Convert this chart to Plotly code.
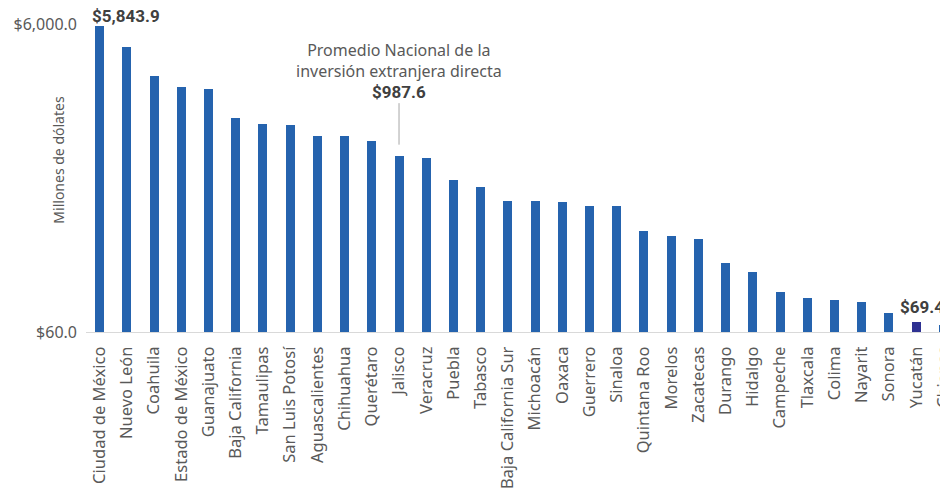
import numpy as np
import plotly.graph_objects as go

# Inversión extranjera directa por entidad federativa (millones de dólares)
estados = [
    "Ciudad de México", "Nuevo León", "Coahuila", "Estado de México", "Guanajuato",
    "Baja California", "Tamaulipas", "San Luis Potosí", "Aguascalientes", "Chihuahua",
    "Querétaro", "Jalisco", "Veracruz", "Puebla", "Tabasco", "Baja California Sur",
    "Michoacán", "Oaxaca", "Guerrero", "Sinaloa", "Quintana Roo", "Morelos",
    "Zacatecas", "Durango", "Hidalgo", "Campeche", "Tlaxcala", "Colima", "Nayarit",
    "Sonora", "Yucatán", "Chiapas",
]
ied = [
    5843.9, 4266, 2764, 2345, 2276,
    1475, 1348, 1328, 1126, 1130,
    1045, 835, 810, 583, 525, 426,
    424, 420, 396, 395, 272, 252,
    241, 168, 147, 109, 100, 97, 94,
    80, 69.4, 67,
]
promedio = 987.6
destacado = "Yucatán"

y_ticks = [60, 6000]
y_ticktext = ["$60.0", "$6,000.0"]

AZUL = "#2563ae"
AZUL_OSCURO = "#2e3192"
NARANJA = "#f47b2a"
GRIS = "#595959"

colores = [AZUL_OSCURO if e == destacado else AZUL for e in estados]

fig = go.Figure(
    go.Bar(
        x=estados,
        y=ied,
        marker=dict(color=colores, line=dict(width=0)),
        width=0.33,
        hoverinfo="skip",
    )
)

# Línea del promedio nacional
fig.add_shape(
    type="line", xref="paper", x0=0, x1=1,
    yref="y", y0=np.log10(promedio), y1=np.log10(promedio),
    line=dict(color=NARANJA, width=4), layer="above",
)

i_prom = estados.index("Jalisco")
fig.add_annotation(
    x=estados[i_prom], y=np.log10(promedio), xref="x", yref="y",
    text="<b>$%.1f</b>" % promedio, showarrow=True, arrowhead=0,
    arrowcolor="#a6a6a6", arrowwidth=1, ax=0, ay=-53,
    font=dict(family="Roboto", size=17, color="#404040"),
)
fig.add_annotation(
    x=estados[i_prom], y=np.log10(promedio), xref="x", yref="y",
    text="Promedio Nacional de la<br>inversión extranjera directa",
    showarrow=False, yshift=84, align="center",
    font=dict(family="Noto Sans", size=16, color=GRIS),
)

# Etiquetas de valor en el máximo y en el estado destacado
fig.add_annotation(
    x=estados[0], y=np.log10(ied[0]), xref="x", yref="y",
    text="<b>$%s</b>" % f"{ied[0]:,.1f}", showarrow=False,
    xanchor="left", xshift=-10, yshift=10,
    font=dict(family="Roboto", size=17, color="#404040"),
)
i_d = estados.index(destacado)
fig.add_annotation(
    x=estados[i_d], y=np.log10(ied[i_d]), xref="x", yref="y",
    text="<b>$%.1f</b>" % ied[i_d], showarrow=False,
    xshift=6, yshift=15,
    font=dict(family="Roboto", size=17, color="#404040"),
)

# Título del eje Y
fig.add_annotation(
    xref="paper", yref="paper", x=-0.032, y=0.56,
    xanchor="center", yanchor="middle",
    text="Millones de dólates", textangle=-90, showarrow=False,
    font=dict(family="Noto Sans", size=14, color=GRIS),
)

fig.update_layout(
    width=970, height=489,
    margin=dict(l=86, r=13, t=24, b=157, autoexpand=False),
    paper_bgcolor="white", plot_bgcolor="white",
    showlegend=False, bargap=0,
    xaxis=dict(
        tickangle=-90, showline=True, linecolor="#d9d9d9", linewidth=1,
        showgrid=False, ticks="", ticklabelstandoff=7, automargin=False,
        tickfont=dict(family="Noto Sans", size=16.5, color=GRIS),
        range=[-0.5, len(estados) - 0.5],
    ),
    yaxis=dict(
        type="log", range=[np.log10(60), np.log10(6000)],
        tickmode="array", tickvals=y_ticks, ticktext=y_ticktext,
        showgrid=False, zeroline=False, showline=False, ticks="",
        ticklabelstandoff=8, automargin=False,
        tickfont=dict(family="Noto Sans", size=16, color=GRIS),
    ),
)

fig.write_html(
    "out.html",
    post_script="document.documentElement.style.overflow='hidden';"
                "document.body.style.overflow='hidden';",
)
